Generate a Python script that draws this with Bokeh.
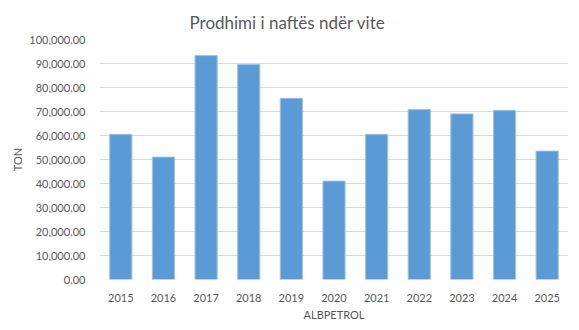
from bokeh.plotting import figure
from bokeh.models import NumeralTickFormatter, FixedTicker, Range1d
from bokeh.embed import file_html
from bokeh.resources import INLINE

years = ["2015", "2016", "2017", "2018", "2019", "2020", "2021", "2022", "2023", "2024", "2025"]
production = [60500, 51000, 93300, 89600, 75500, 41000, 60500, 70800, 69000, 70500, 53500]
y_ticks = [0, 10000, 20000, 30000, 40000, 50000, 60000, 70000, 80000, 90000, 100000]
title_text = "Prodhimi i naftës ndër vite"

FONT = "Lato"
TXT = "#595959"

p = figure(x_range=years, y_range=Range1d(0, 100000), width=579, height=330,
           output_backend="svg", toolbar_location=None, title=title_text,
           min_border_left=99, min_border_right=11, min_border_top=39, min_border_bottom=51)

p.vbar(x=years, top=production, width=0.52, fill_color="#5B9BD5", line_color="#9DC3E6", line_width=1)

p.title.align = "left"
p.title.offset = 90
p.title.standoff = 13
p.title.text_font = FONT
p.title.text_font_size = "17px"
p.title.text_font_style = "normal"
p.title.text_color = TXT

p.outline_line_color = None
p.xgrid.grid_line_color = None
p.ygrid.grid_line_color = "#D9D9D9"
p.ygrid.grid_line_width = 1

p.yaxis.ticker = FixedTicker(ticks=y_ticks)
p.yaxis.formatter = NumeralTickFormatter(format="0,0.00")
for ax in (p.xaxis[0], p.yaxis[0]):
    ax.axis_line_color = None
    ax.major_tick_line_color = None
    ax.minor_tick_line_color = None
    ax.major_label_text_font = FONT
    ax.major_label_text_font_size = "11px"
    ax.major_label_text_color = TXT
    ax.axis_label_text_font = FONT
    ax.axis_label_text_font_size = "11px"
    ax.axis_label_text_font_style = "normal"
    ax.axis_label_text_color = TXT
    ax.major_label_standoff = 8

p.yaxis.axis_label = "TON"
p.xaxis.axis_label = "ALBPETROL"
p.yaxis.axis_label_standoff = 2
p.xaxis.axis_label_standoff = 3

open("out.html", "w").write(file_html(p, INLINE))
